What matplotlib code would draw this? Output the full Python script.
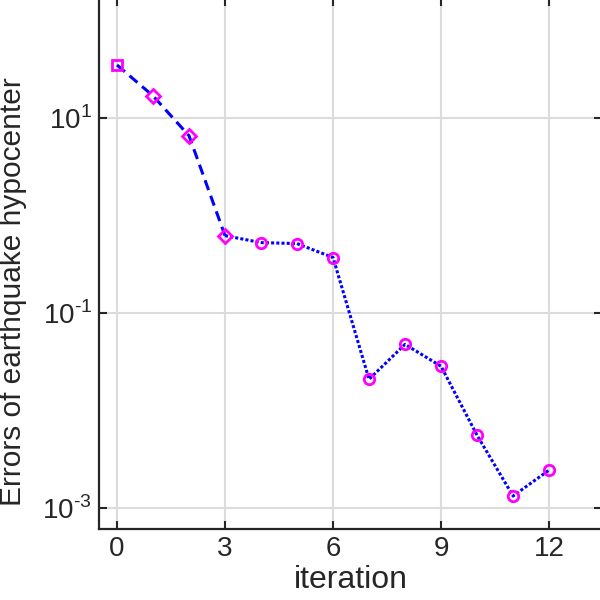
import matplotlib
matplotlib.use('Agg')
import matplotlib.pyplot as plt
from matplotlib.ticker import FixedLocator, NullLocator

plt.rcParams['font.family'] = ['Liberation Sans', 'DejaVu Sans']
plt.rcParams['mathtext.fontset'] = 'custom'
plt.rcParams['mathtext.rm'] = 'Liberation Sans'

# iteration values
it_dash = [0, 1, 2, 3]
err_dash = [34.8, 16.8, 6.55, 0.62]
it_dot = [3, 4, 5, 6, 7, 8, 9, 10, 11, 12]
err_dot = [0.62, 0.526, 0.514, 0.37, 0.0209, 0.0477, 0.0284, 0.00558, 0.00133, 0.00245]
x_ticks = [0, 3, 6, 9, 12]
y_ticks = [1e-3, 1e-1, 1e1]
y_labels = ['$10^{\\text{-}3}$', '$10^{\\text{-}1}$', '$10^{1}$']

fig = plt.figure(figsize=(6, 6), dpi=100)
# top and right edges sit just outside the figure, as in the reference
ax = fig.add_axes([0.165, 0.1183, 0.8383, 0.885])

ax.plot(it_dash, err_dash, color='blue', lw=2.2, dashes=(3.4, 2.0))
ax.plot(it_dot, err_dot, color='blue', lw=2.2, dashes=(1, 0.7))
mag = '#ff00ff'
ax.plot(it_dash[:1], err_dash[:1], 's', mfc='none', mec=mag, ms=7, mew=2)
ax.plot(it_dash[1:], err_dash[1:], 'D', mfc='none', mec=mag, ms=7, mew=2)
ax.plot(it_dot[1:], err_dot[1:], 'o', mfc='none', mec=mag, ms=7.5, mew=2)

ax.set_yscale('log')
ax.set_xlim(-0.5, 13.47)
ax.set_ylim(6.1e-4, 169)
ax.xaxis.set_major_locator(FixedLocator(x_ticks))
ax.yaxis.set_major_locator(FixedLocator(y_ticks))
ax.yaxis.set_minor_locator(NullLocator())
ax.set_yticklabels(y_labels)
ax.grid(True, color='#dcdcdc', lw=1.5)
ax.set_axisbelow(True)
ax.tick_params(direction='in', length=5.5, width=1.5, labelsize=20, pad=5,
               right=True, top=True, colors='#262626', labelcolor='#262626')
for s in ax.spines.values():
    s.set_linewidth(1.6)
    s.set_color('#262626')

ax.set_xlabel('iteration', fontsize=23, color='#262626', labelpad=2)
ax.set_ylabel('Errors of earthquake hypocenter', fontsize=21.5, color='#262626')
ax.yaxis.set_label_coords(-0.143, 0.448)

fig.savefig('out.png', dpi=100)
